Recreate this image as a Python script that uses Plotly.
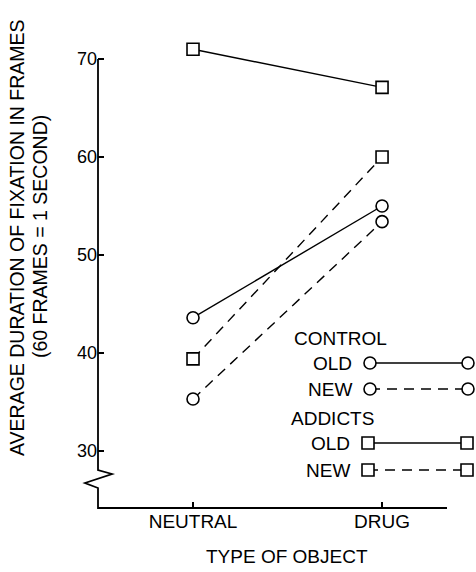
import plotly.graph_objects as go

# ---- data ----
categories = ["NEUTRAL", "DRUG"]
control_old = [43.6, 55.0]
control_new = [35.3, 53.4]
addicts_old = [71.0, 67.1]
addicts_new = [39.4, 60.0]
y_ticks = [30, 40, 50, 60, 70]

# ---- layout constants (pixels) ----
W, H = 476, 572
L, R, T, B = 98, 0, 30, 64
PW, PH = W - L - R, H - T - B
YMIN, YMAX = 24.18, 72.96
XMIN, XMAX = -0.5026, 1.497
FONT = "Liberation Sans, Arial, sans-serif"


def px_x(px):
    return (px - L) / PW


def px_y(py):
    return (H - B - py) / PH


def val_y(v):
    return (v - YMIN) / (YMAX - YMIN)


fig = go.Figure()

series = [
    ("Control old", control_old, "circle", "solid"),
    ("Control new", control_new, "circle", "10px,7px"),
    ("Addicts old", addicts_old, "square", "solid"),
    ("Addicts new", addicts_new, "square", "10px,7px"),
]
for name, vals, sym, dash in series:
    fig.add_trace(go.Scatter(
        x=categories, y=vals, mode="lines", name=name,
        line=dict(color="black", width=1.4, dash=dash),
        showlegend=False, hoverinfo="skip",
    ))
for name, vals, sym, dash in series:
    fig.add_trace(go.Scatter(
        x=categories, y=vals, mode="markers", name=name,
        marker=dict(symbol=sym, size=12, color="white",
                    line=dict(color="black", width=1.6)),
        showlegend=False, cliponaxis=False,
    ))

# ---- hand-drawn legend (overlay axes in plot fractions) ----
leg_rows = [
    ("OLD", "circle", "solid", 363, 370, 468),
    ("NEW", "circle", "10px,7px", 389, 370, 468),
    ("OLD", "square", "solid", 443, 368, 467),
    ("NEW", "square", "10px,7px", 470, 368, 467),
]
for lab, sym, dash, py, x0, x1 in leg_rows:
    fig.add_trace(go.Scatter(
        x=[px_x(x0), px_x(x1)], y=[px_y(py), px_y(py)], mode="lines",
        line=dict(color="black", width=1.4, dash=dash),
        xaxis="x2", yaxis="y2", showlegend=False, hoverinfo="skip",
    ))
    fig.add_trace(go.Scatter(
        x=[px_x(x0), px_x(x1)], y=[px_y(py), px_y(py)], mode="markers",
        marker=dict(symbol=sym, size=12, color="white",
                    line=dict(color="black", width=1.6)),
        xaxis="x2", yaxis="y2", showlegend=False, cliponaxis=False,
        hoverinfo="skip",
    ))

annotations = []
for txt, px, py in [("CONTROL", 292, 338), ("ADDICTS", 289, 418)]:
    annotations.append(dict(text=txt, x=px_x(px), y=px_y(py), xref="paper",
                            yref="paper", xanchor="left", yanchor="middle",
                            showarrow=False, font=dict(size=19, color="black", family=FONT)))
for lab, sym, dash, py, x0, x1 in leg_rows:
    annotations.append(dict(text=lab, x=px_x(x0 - 16), y=px_y(py), xref="paper",
                            yref="paper", xanchor="right", yanchor="middle",
                            showarrow=False, font=dict(size=19, color="black", family=FONT)))

# axis titles
annotations.append(dict(text="AVERAGE DURATION OF FIXATION IN FRAMES", textangle=-90,
                        x=px_x(17), y=px_y(238), xref="paper", yref="paper",
                        xanchor="center", yanchor="middle", showarrow=False,
                        font=dict(size=19.5, color="black", family=FONT)))
annotations.append(dict(text="(60 FRAMES = 1 SECOND)", textangle=-90,
                        x=px_x(40), y=px_y(237), xref="paper", yref="paper",
                        xanchor="center", yanchor="middle", showarrow=False,
                        font=dict(size=19.5, color="black", family=FONT)))
annotations.append(dict(text="TYPE OF OBJECT", x=px_x(287), y=px_y(556),
                        xref="paper", yref="paper", xanchor="center", yanchor="middle",
                        showarrow=False, font=dict(size=19, color="black", family=FONT)))

# axis lines with break
path = "M {} {} L {} {} L {} {} L {} {} L {} {} L {} {} L {} {}".format(
    px_x(98), val_y(70),
    px_x(98), px_y(470),
    px_x(112), px_y(474),
    px_x(85), px_y(483),
    px_x(98), px_y(488),
    px_x(98), px_y(508),
    px_x(447), px_y(508),
)
shapes = [dict(type="path", path=path, xref="paper", yref="paper",
               line=dict(color="black", width=1.8))]

fig.update_layout(
    width=W, height=H,
    margin=dict(l=L, r=R, t=T, b=B),
    paper_bgcolor="white", plot_bgcolor="white",
    font=dict(family=FONT, color="black", size=18),
    xaxis=dict(type="category", range=[XMIN, XMAX], showgrid=False, zeroline=False,
               showline=False, ticks="inside", ticklen=6, tickwidth=1.6,
               tickcolor="black", tickfont=dict(size=19), fixedrange=True),
    yaxis=dict(range=[YMIN, YMAX], tickvals=y_ticks, showgrid=False, zeroline=False,
               showline=False, ticks="inside", ticklen=6, tickwidth=1.6,
               tickcolor="black", tickfont=dict(size=18), fixedrange=True),
    xaxis2=dict(overlaying="x", range=[0, 1], visible=False, fixedrange=True),
    yaxis2=dict(overlaying="y", range=[0, 1], visible=False, fixedrange=True),
    annotations=annotations,
    shapes=shapes,
    showlegend=False,
)

fig.write_html(
    "out.html",
    config={"displayModeBar": False},
    post_script="document.body.style.margin='0';document.body.style.overflow='hidden';",
)
